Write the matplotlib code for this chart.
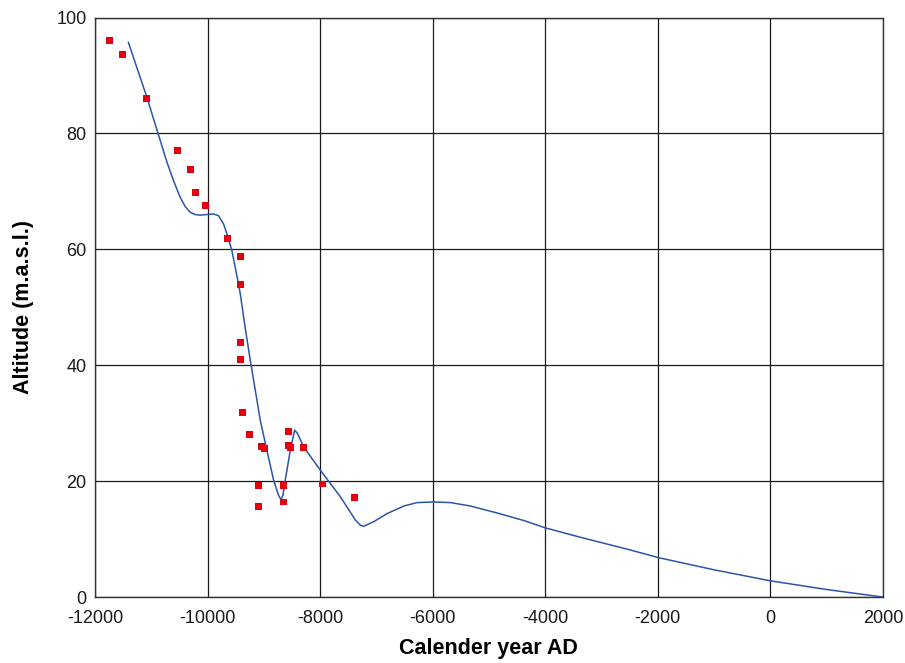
import matplotlib
matplotlib.use("Agg")
import matplotlib.pyplot as plt

plt.rcParams['font.family'] = ['Liberation Sans', 'DejaVu Sans']
plt.rcParams['axes.unicode_minus'] = False

# dated shoreline observations
obs_year = [-11751, -11520, -11080, -10541, -10310, -10221, -10043, -9651,
            -9420, -9420, -9420, -9420, -9379, -9260, -9046, -8990,
            -9100, -9100, -8654, -8654, -8565, -8565, -8530, -8298,
            -7955, -7395]
obs_alt = [96.0, 93.6, 86.0, 77.0, 73.8, 69.8, 67.5, 61.8,
           58.8, 53.9, 43.9, 41.0, 31.9, 28.1, 26.0, 25.6,
           19.2, 15.7, 19.3, 16.4, 28.5, 26.1, 25.8, 25.8,
           19.5, 17.1]

# fitted shore displacement curve
curve_year = [-11407, -11258, -11080, -10874, -10724, -10607, -10488, -10399,
              -10310, -10221, -10132, -10012, -9895, -9806, -9717, -9657,
              -9568, -9468, -9420, -9340, -9242, -9123, -9064, -8945,
              -8827, -8740, -8696, -8660, -8619, -8530, -8453, -8400,
              -8293, -7996, -7640, -7374, -7285, -7226, -7160, -7048,
              -6810, -6514, -6276, -5980, -5683, -5327, -4853, -4379,
              -4004, -3370, -2480, -1988, -1000, 0, 1000, 2000]
curve_alt = [95.7, 91.4, 86.3, 79.8, 75.1, 71.9, 69.0, 67.4,
             66.4, 66.0, 65.9, 66.0, 66.1, 65.8, 64.4, 62.7,
             59.8, 54.9, 52.4, 47.0, 40.9, 34.0, 30.5, 25.3,
             20.2, 17.6, 16.8, 17.6, 20.2, 25.3, 28.8, 28.2,
             25.9, 21.9, 17.3, 13.3, 12.4, 12.2, 12.5, 13.0,
             14.4, 15.7, 16.3, 16.4, 16.3, 15.7, 14.5, 13.2,
             11.95, 10.3, 8.1, 6.8, 4.7, 2.8, 1.3, 0.0]

fig = plt.figure(figsize=(9.05, 6.63), dpi=100)
ax = fig.add_axes([0.105, 0.0995, 0.8705, 0.8741])

ax.plot(curve_year, curve_alt, color='#2b55a8', lw=1.1, zorder=3)
ax.scatter(obs_year, obs_alt, marker='s', s=25, color='#e3000f',
           edgecolors='none', zorder=4)

ax.set_xlim(-12000, 2000)
ax.set_ylim(0, 100)
ax.set_xticks(range(-12000, 2001, 2000))
ax.set_yticks(range(0, 101, 20))
ax.grid(True, color='#1a1a1a', lw=0.9)
ax.set_axisbelow(True)
ax.tick_params(length=0, labelsize=13, colors='#1a1a1a')
ax.tick_params(axis='x', pad=9)
ax.tick_params(axis='y', pad=6)
for sp in ax.spines.values():
    sp.set_color('#333333')
    sp.set_linewidth(1.0)

ax.set_xlabel('Calender year AD', fontsize=15.5, fontweight='bold', labelpad=8)
ax.set_ylabel('Altitude (m.a.s.l.)', fontsize=15.5, fontweight='bold', labelpad=16)

fig.savefig('out.png', dpi=100)
